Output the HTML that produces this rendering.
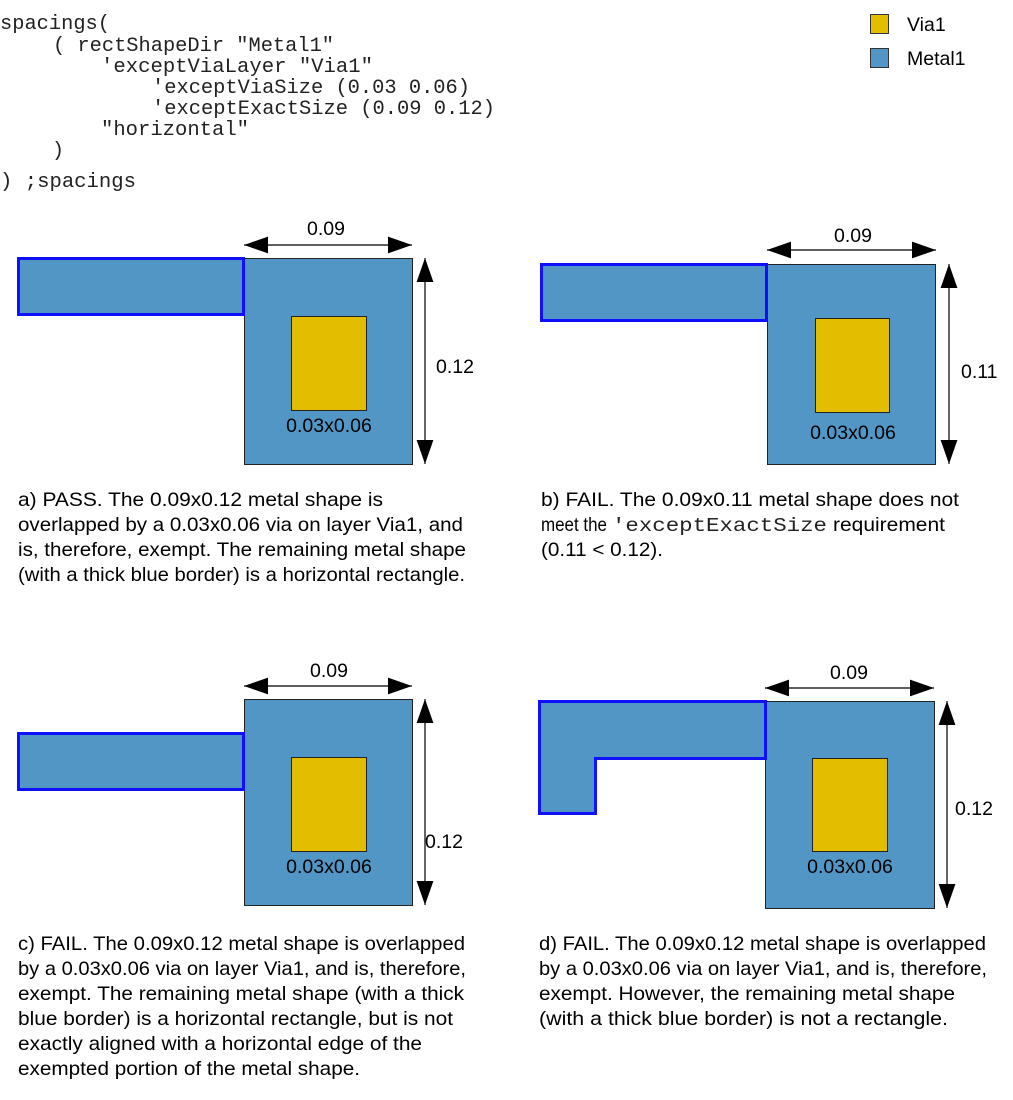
<!DOCTYPE html>
<html><head><meta charset="utf-8"><style>
html,body{margin:0;padding:0;background:#fff;}
svg{display:block;}
.s{font-family:"Liberation Sans",sans-serif;font-size:19.5px;fill:#000;}
.m{font-family:"Liberation Mono",monospace;font-size:20px;fill:#222;}
</style></head><body>
<svg width="1013" height="1100" viewBox="0 0 1013 1100" xmlns="http://www.w3.org/2000/svg">
<defs>
<marker id="ah" viewBox="0 0 10 10" refX="10" refY="5" markerWidth="24" markerHeight="24" markerUnits="userSpaceOnUse" orient="auto-start-reverse">
<path d="M0,1.5 L10,5 L0,8.5 z" fill="#000"/>
</marker>
</defs>
<!-- code -->
<text class="m" x="0" y="29" textLength="110" lengthAdjust="spacingAndGlyphs">spacings(</text>
<text class="m" x="53" y="51" textLength="281" lengthAdjust="spacingAndGlyphs">( rectShapeDir "Metal1"</text>
<text class="m" x="101" y="72" textLength="272" lengthAdjust="spacingAndGlyphs">'exceptViaLayer "Via1"</text>
<text class="m" x="152" y="93" textLength="318" lengthAdjust="spacingAndGlyphs">'exceptViaSize (0.03 0.06)</text>
<text class="m" x="152" y="114" textLength="343" lengthAdjust="spacingAndGlyphs">'exceptExactSize (0.09 0.12)</text>
<text class="m" x="101" y="135" textLength="148" lengthAdjust="spacingAndGlyphs">"horizontal"</text>
<text class="m" x="52" y="156">)</text>
<text class="m" x="0" y="187" textLength="136" lengthAdjust="spacingAndGlyphs">) ;spacings</text>
<!-- legend -->
<rect x="870.5" y="14.5" width="18" height="19" fill="#e2bd00" stroke="#333"/>
<rect x="870.5" y="48.5" width="18" height="19" fill="#5196c4" stroke="#333"/>
<text class="s" x="907" y="31">Via1</text>
<text class="s" x="907" y="65">Metal1</text>

<!-- panel a -->
<rect x="244.5" y="258.5" width="168" height="206" fill="#5196c4" stroke="#222"/>
<rect x="18.5" y="258.5" width="225" height="56" fill="#5196c4" stroke="#1010ff" stroke-width="3"/>
<rect x="291.5" y="316.5" width="75" height="94" fill="#e2bd00" stroke="#222"/>
<text class="s" x="329" y="432" text-anchor="middle">0.03x0.06</text>
<line x1="244" y1="245" x2="412" y2="245" stroke="#000" stroke-width="1.2" marker-start="url(#ah)" marker-end="url(#ah)"/>
<text class="s" x="326" y="235" text-anchor="middle">0.09</text>
<line x1="425" y1="258" x2="425" y2="464" stroke="#000" stroke-width="1.2" marker-start="url(#ah)" marker-end="url(#ah)"/>
<text class="s" x="436" y="373">0.12</text>

<!-- panel b -->
<rect x="767.5" y="264.5" width="168" height="200" fill="#5196c4" stroke="#222"/>
<rect x="541.5" y="264.5" width="225" height="56" fill="#5196c4" stroke="#1010ff" stroke-width="3"/>
<rect x="815.5" y="318.5" width="74" height="94" fill="#e2bd00" stroke="#222"/>
<text class="s" x="853" y="439" text-anchor="middle">0.03x0.06</text>
<line x1="767" y1="250" x2="936" y2="250" stroke="#000" stroke-width="1.2" marker-start="url(#ah)" marker-end="url(#ah)"/>
<text class="s" x="853" y="242" text-anchor="middle">0.09</text>
<line x1="949" y1="264" x2="949" y2="464" stroke="#000" stroke-width="1.2" marker-start="url(#ah)" marker-end="url(#ah)"/>
<text class="s" x="961" y="378">0.11</text>

<!-- panel c -->
<rect x="244.5" y="699.5" width="168" height="206" fill="#5196c4" stroke="#222"/>
<rect x="18.5" y="733.5" width="225" height="56" fill="#5196c4" stroke="#1010ff" stroke-width="3"/>
<rect x="291.5" y="757.5" width="75" height="94" fill="#e2bd00" stroke="#222"/>
<text class="s" x="329" y="873" text-anchor="middle">0.03x0.06</text>
<line x1="244" y1="686" x2="412" y2="686" stroke="#000" stroke-width="1.2" marker-start="url(#ah)" marker-end="url(#ah)"/>
<text class="s" x="329" y="677" text-anchor="middle">0.09</text>
<line x1="425" y1="699" x2="425" y2="905" stroke="#000" stroke-width="1.2" marker-start="url(#ah)" marker-end="url(#ah)"/>
<text class="s" x="425" y="848">0.12</text>

<!-- panel d -->
<rect x="765.5" y="701.5" width="169" height="207" fill="#5196c4" stroke="#222"/>
<path d="M539.5,701.5 H765.5 V758.5 H595.5 V813.5 H539.5 Z" fill="#5196c4" stroke="#1010ff" stroke-width="3"/>
<rect x="812.5" y="758.5" width="75" height="93" fill="#e2bd00" stroke="#222"/>
<text class="s" x="850" y="873" text-anchor="middle">0.03x0.06</text>
<line x1="765" y1="688" x2="934" y2="688" stroke="#000" stroke-width="1.2" marker-start="url(#ah)" marker-end="url(#ah)"/>
<text class="s" x="849" y="679" text-anchor="middle">0.09</text>
<line x1="947" y1="701" x2="947" y2="908" stroke="#000" stroke-width="1.2" marker-start="url(#ah)" marker-end="url(#ah)"/>
<text class="s" x="955" y="815">0.12</text>

<!-- captions -->
<g lengthAdjust="spacingAndGlyphs">
<text class="s" x="18" y="506" textLength="365" lengthAdjust="spacingAndGlyphs">a) PASS. The 0.09x0.12 metal shape is</text>
<text class="s" x="18" y="531" textLength="445" lengthAdjust="spacingAndGlyphs">overlapped by a 0.03x0.06 via on layer Via1, and</text>
<text class="s" x="18" y="556" textLength="448" lengthAdjust="spacingAndGlyphs">is, therefore, exempt. The remaining metal shape</text>
<text class="s" x="18" y="581" textLength="447" lengthAdjust="spacingAndGlyphs">(with a thick blue border) is a horizontal rectangle.</text>

<text class="s" x="541" y="506" textLength="418" lengthAdjust="spacingAndGlyphs">b) FAIL. The 0.09x0.11 metal shape does not</text>
<text class="s" x="541" y="531" textLength="66" lengthAdjust="spacingAndGlyphs">meet the</text>
<text class="m" x="612" y="531" textLength="215" lengthAdjust="spacingAndGlyphs" style="font-size:19px">'exceptExactSize</text>
<text class="s" x="833" y="531" textLength="112" lengthAdjust="spacingAndGlyphs">requirement</text>
<text class="s" x="541" y="556" textLength="122" lengthAdjust="spacingAndGlyphs">(0.11 &lt; 0.12).</text>

<text class="s" x="18" y="950" textLength="447" lengthAdjust="spacingAndGlyphs">c) FAIL. The 0.09x0.12 metal shape is overlapped</text>
<text class="s" x="18" y="975" textLength="448" lengthAdjust="spacingAndGlyphs">by a 0.03x0.06 via on layer Via1, and is, therefore,</text>
<text class="s" x="18" y="1000" textLength="446" lengthAdjust="spacingAndGlyphs">exempt. The remaining metal shape (with a thick</text>
<text class="s" x="18" y="1025" textLength="435" lengthAdjust="spacingAndGlyphs">blue border) is a horizontal rectangle, but is not</text>
<text class="s" x="18" y="1050" textLength="404" lengthAdjust="spacingAndGlyphs">exactly aligned with a horizontal edge of the</text>
<text class="s" x="18" y="1075" textLength="342" lengthAdjust="spacingAndGlyphs">exempted portion of the metal shape.</text>

<text class="s" x="539" y="950" textLength="447" lengthAdjust="spacingAndGlyphs">d) FAIL. The 0.09x0.12 metal shape is overlapped</text>
<text class="s" x="539" y="975" textLength="448" lengthAdjust="spacingAndGlyphs">by a 0.03x0.06 via on layer Via1, and is, therefore,</text>
<text class="s" x="539" y="1000" textLength="416" lengthAdjust="spacingAndGlyphs">exempt. However, the remaining metal shape</text>
<text class="s" x="539" y="1025" textLength="409" lengthAdjust="spacingAndGlyphs">(with a thick blue border) is not a rectangle.</text>
</g>
</svg>
</body></html>
